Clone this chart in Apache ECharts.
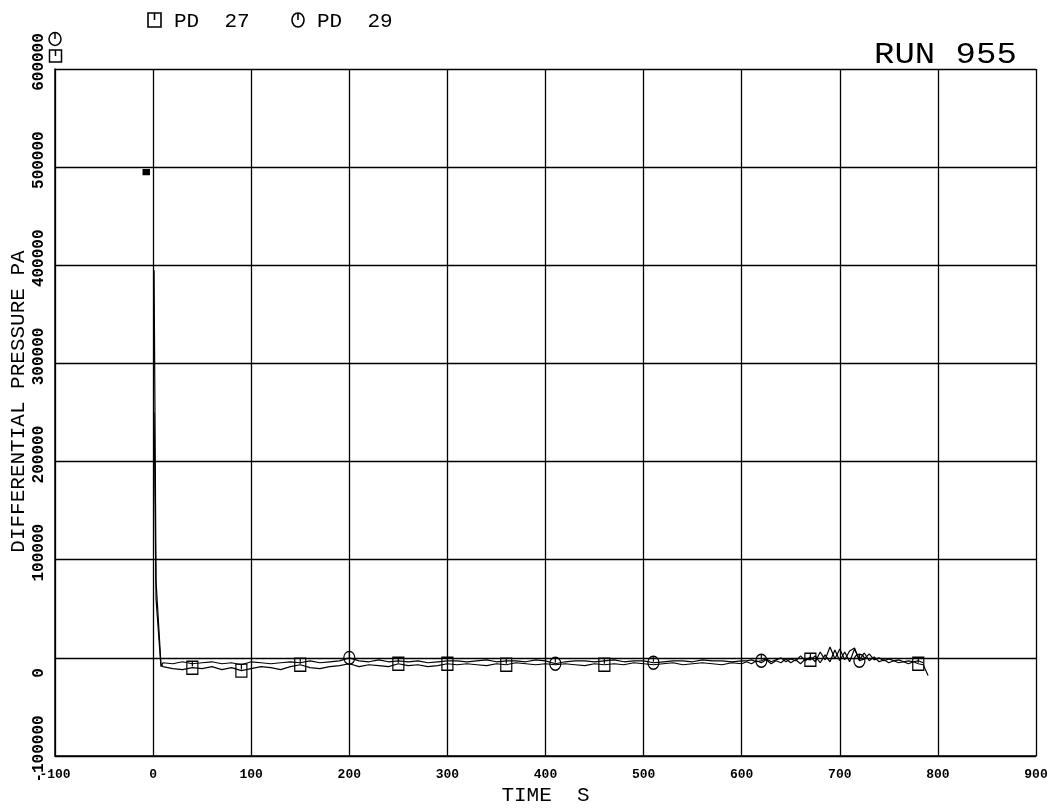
<!DOCTYPE html>
<html><head><meta charset="utf-8">
<script src="https://cdn.jsdelivr.net/npm/echarts@6/dist/echarts.min.js"></script>
<style>html,body{margin:0;padding:0;background:#fff}#c{width:1056px;height:808px}</style>
</head><body><div id="c"></div>
<script>
// time (s)
const times = [-7, -3, 1, 3, 8,
  10,20,30,40,50,60,70,80,90,100,110,120,130,140,150,160,170,180,190,200,
  210,220,230,240,250,260,270,280,290,300,310,320,330,340,350,360,370,380,390,400,
  410,420,430,440,450,460,470,480,490,500,510,520,530,540,550,560,570,580,590,600,
  605,610,615,620,625,630,635,640,645,650,655,660,665,670,675,680,685,690,695,700,
  705,710,715,720,725,730,735,740,745,750,755,760,765,770,775,780,785,790];
// PD 27 (Pa)
const pd27 = [495000, null, 395000, 78000, -6000,
  -9000,-11000,-12000,-10000,-11000,-9000,-12000,-10000,-13000,-11000,-9000,-10000,-12000,-9000,-7000,-10000,-11000,-9000,-8000,-6000,
  -9000,-7000,-8000,-9000,-6000,-8000,-7000,-9000,-8000,-6000,-7000,-6000,-7000,-8000,-6000,-7000,-5000,-6000,-7000,-6000,
  -7000,-6000,-7000,-8000,-6000,-7000,-6000,-7000,-5000,-6000,-7000,-6000,-5000,-7000,-6000,-5000,-6000,-7000,-5000,-6000,
  -4000,-6000,-3000,-5000,-2000,-6000,-3000,-5000,-1000,-5000,-2000,-6000,-1000,-2000,2000,-5000,3000,-4000,8000,-3000,
  6000,-4000,9000,-2000,5000,-3000,1000,-4000,-2000,-5000,-3000,-5000,-4000,-6000,-4000,-6000,-7000,-18000];
// PD 29 (Pa)
const pd29 = [null, null, 250000, 60000, -9000,
  -5000,-6000,-4000,-6000,-5000,-4000,-6000,-5000,-7000,-4000,-5000,-6000,-5000,-4000,-5000,-3000,-5000,-4000,-3000,0,
  -3000,-4000,-2000,-4000,-3000,-4000,-3000,-5000,-4000,-3000,-3000,-4000,-3000,-2000,-4000,-3000,-3000,-4000,-2000,-3000,
  -6000,-4000,-3000,-3000,-4000,-3000,-2000,-4000,-3000,-3000,-5000,-4000,-3000,-3000,-4000,-2000,-3000,-3000,-4000,-3000,
  -3000,-2000,-4000,-3000,-1000,-4000,-2000,0,-4000,-1000,-3000,2000,-3000,1000,-4000,6000,-2000,11000,-1000,9000,
  -2000,7000,10000,-3000,-1000,4000,-2000,0,-3000,-1000,-3000,-2000,-4000,-3000,-4000,-3000,-5000,null];
// times at which plotter symbols are drawn
const marks27 = [40, 90, 150, 250, 300, 360, 460, 565, 670, 780];
const marks29 = [200, 410, 510, 620, 720];
const xTicks = [-100, 0, 100, 200, 300, 400, 500, 600, 700, 800, 900];
const yTicks = [-100000, 0, 100000, 200000, 300000, 400000, 500000, 600000];

const SQ = 'path://M0,0L10,0L10,12L0,12Z M5,0L5,5';
const CI = 'path://M5,0C8,0 10,3 10,6C10,9 8,12 5,12C2,12 0,9 0,6C0,3 2,0 5,0Z M5,0L5,5';
const FONT = 'Liberation Mono';

function build(vals, marks, sym) {
  return times.map((t, i) => {
    const v = vals[i];
    if (v === null) return [t, '-'];
    if (t < 0) return {value: [t, v], symbol: 'rect', symbolSize: [6, 5], itemStyle: {color: '#000'}};
    return {value: [t, v], symbol: marks.includes(t) ? sym : 'none'};
  });
}

const chart = echarts.init(document.getElementById('c'), null, {renderer: 'canvas'});
chart.setOption({
  animation: false,
  backgroundColor: '#fff',
  grid: {left: 55, right: 20, top: 69, bottom: 52, show: false, containLabel: false, outerBoundsMode: 'none'},
  xAxis: {
    type: 'value', min: xTicks[0], max: xTicks[xTicks.length - 1], interval: 100,
    name: 'TIME  S', nameLocation: 'middle', nameGap: 29, nameMoveOverlap: false,
    nameTextStyle: {fontFamily: FONT, fontSize: 21, color: '#000'},
    axisLine: {show: true, onZero: false, lineStyle: {color: '#000', width: 1.5}},
    axisTick: {show: false},
    axisLabel: {fontFamily: FONT, fontSize: 13, fontWeight: 'bold', color: '#000', margin: 12, formatter: v => String(v)},
    splitLine: {show: true, lineStyle: {color: '#000', width: 1.3}}
  },
  yAxis: {
    type: 'value', min: yTicks[0], max: yTicks[yTicks.length - 1], interval: 100000,
    name: 'DIFFERENTIAL PRESSURE PA', nameLocation: 'middle', nameGap: 26, nameMoveOverlap: false,
    nameTextStyle: {fontFamily: FONT, fontSize: 21, color: '#000', padding: [0, 0, 0, 22]},
    axisLine: {show: true, onZero: false, lineStyle: {color: '#000', width: 1.5}},
    axisTick: {show: false},
    axisLabel: {fontFamily: FONT, fontSize: 16, fontWeight: 'bold', color: '#000', rotate: 90, margin: 8,
      padding: [0, 0, 0, 14], formatter: v => v === 0 ? '{z|0}' : String(v),
      rich: {z: {fontFamily: FONT, fontSize: 16, fontWeight: 'bold', color: '#000', padding: [0, 44, 0, 0]}}},
    splitLine: {show: true, lineStyle: {color: '#000', width: 1.3}}
  },
  series: [
    {type: 'line', name: 'PD 27', data: build(pd27, marks27, SQ), showSymbol: true, symbolSize: [11, 13],
     connectNulls: false, lineStyle: {color: '#000', width: 1.2}, itemStyle: {color: 'rgba(0,0,0,0)', borderColor: '#000', borderWidth: 1.3}, z: 3},
    {type: 'line', name: 'PD 29', data: build(pd29, marks29, CI), showSymbol: true, symbolSize: [11, 13],
     connectNulls: false, lineStyle: {color: '#000', width: 1.2}, itemStyle: {color: 'rgba(0,0,0,0)', borderColor: '#000', borderWidth: 1.3}, z: 3}
  ],
  graphic: [
    // legend
    {type: 'rect', shape: {x: 148, y: 13, width: 13, height: 14}, style: {fill: 'none', stroke: '#000', lineWidth: 1.6}},
    {type: 'line', shape: {x1: 154.5, y1: 13, x2: 154.5, y2: 20}, style: {stroke: '#000', lineWidth: 1.6}},
    {type: 'text', left: 174, top: 11, style: {text: 'PD  27', font: '21px "Liberation Mono"', fill: '#000'}},
    {type: 'ellipse', shape: {cx: 298, cy: 20, rx: 6, ry: 7}, style: {fill: 'none', stroke: '#000', lineWidth: 1.6}},
    {type: 'line', shape: {x1: 298, y1: 13, x2: 298, y2: 20}, style: {stroke: '#000', lineWidth: 1.6}},
    {type: 'text', left: 317, top: 11, style: {text: 'PD  29', font: '21px "Liberation Mono"', fill: '#000'}},
    // axis series symbols
    {type: 'ellipse', shape: {cx: 55, cy: 39, rx: 6, ry: 6.5}, style: {fill: 'none', stroke: '#000', lineWidth: 1.5}},
    {type: 'line', shape: {x1: 55, y1: 32.5, x2: 55, y2: 39}, style: {stroke: '#000', lineWidth: 1.5}},
    {type: 'rect', shape: {x: 49.5, y: 50, width: 12, height: 12}, style: {fill: 'none', stroke: '#000', lineWidth: 1.5}},
    {type: 'line', shape: {x1: 55.5, y1: 50, x2: 55.5, y2: 56}, style: {stroke: '#000', lineWidth: 1.5}},
    // run label
    {type: 'text', x: 874, y: 41, scaleY: 0.85, style: {text: 'RUN 955', font: '34px "Liberation Mono"', fill: '#000'}}
  ]
});
</script>
</body></html>
